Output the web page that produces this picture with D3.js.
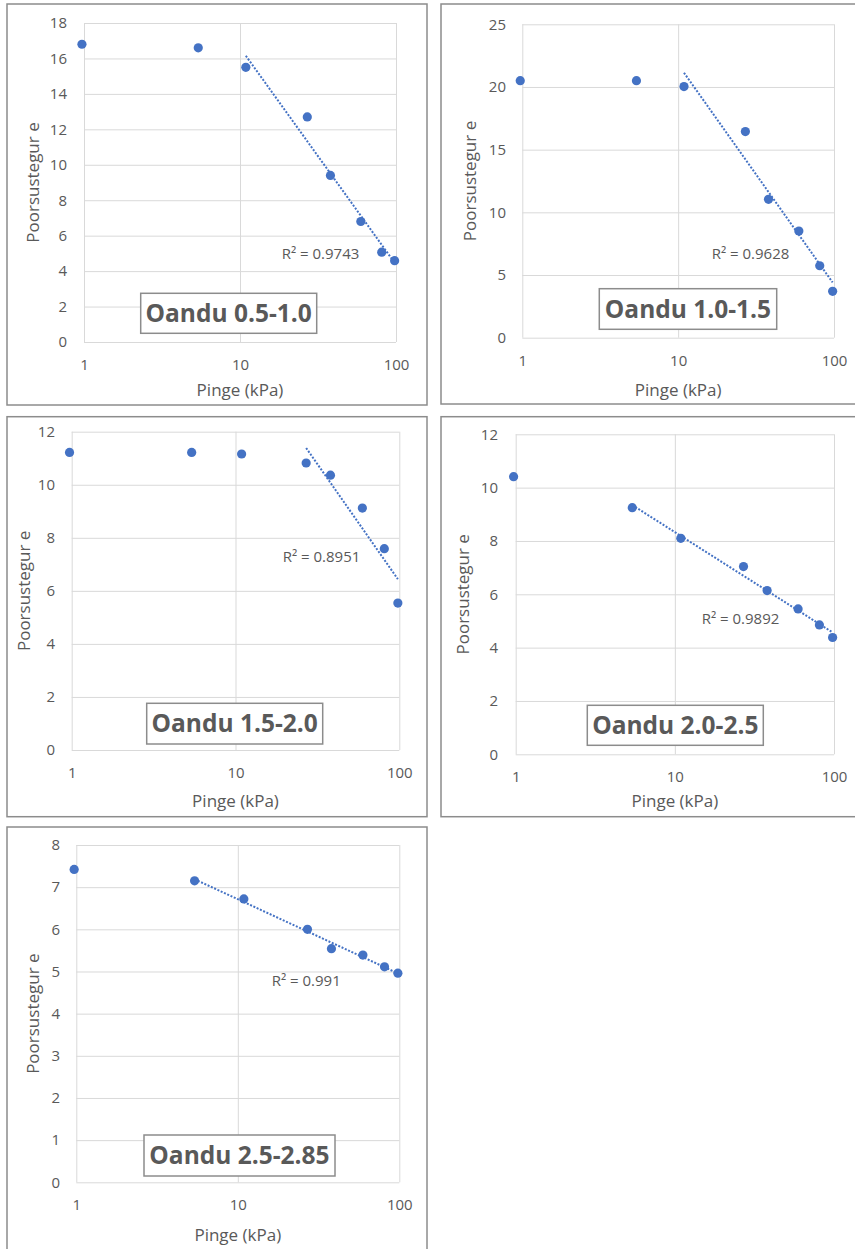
<!DOCTYPE html>
<html>
<head>
<meta charset="utf-8">
<script src="https://cdn.jsdelivr.net/npm/d3@7"></script>
<style>
  body { margin: 0; background: #fff; }
  text { font-family: 'Open Sans', sans-serif; fill: #595959; }
</style>
</head>
<body>
<svg id="canvas"></svg>
<script>
// pressure steps (kPa), same for every sample
let pinge = [0.97, 5.4, 10.9, 27, 38, 59.5, 81, 98]

// void ratio e for each depth interval
let oandu1 = [16.8, 16.6, 15.5, 12.7, 9.4, 6.8, 5.07, 4.59]
let oandu2 = [20.5, 20.5, 20.03, 16.44, 11.04, 8.51, 5.74, 3.70]
let oandu3 = [11.22, 11.22, 11.16, 10.82, 10.36, 9.12, 7.59, 5.54]
let oandu4 = [10.41, 9.25, 8.1, 7.04, 6.14, 5.45, 4.85, 4.38]
let oandu5 = [7.42, 7.15, 6.72, 6.0, 5.54, 5.39, 5.11, 4.96]

let names = ['Oandu 0.5-1.0', 'Oandu 1.0-1.5', 'Oandu 1.5-2.0', 'Oandu 2.0-2.5', 'Oandu 2.5-2.85']
let r2Labels = ['R² = 0.9743', 'R² = 0.9628', 'R² = 0.8951', 'R² = 0.9892', 'R² = 0.991']
// first point index used for the trendline
let trendStart = [2, 2, 3, 1, 1]
let yMax = [18, 25, 12, 12, 8]
let yStep = [2, 5, 2, 2, 1]
let xTicks = [1, 10, 100]

let series = [oandu1, oandu2, oandu3, oandu4, oandu5]

let width = 855
let height = 1249
let blue = '#4472C4'

// layout of each panel (box, plot area, label spots)
let layout = [
    {box: [7, 4, 420, 401], l: 84, r: 396, t: 23, b: 342, tickR: 67, yLab: 33, tickY: 365, titleY: 390,
     nameBox: [140.7, 293.3, 176, 40], r2: [281.7, 254]},
    {box: [441, 4, 430, 400], l: 522.3, r: 834, t: 24.3, b: 337.7, tickR: 506, yLab: 470, tickY: 361, titleY: 390,
     nameBox: [599.3, 288.7, 177.4, 40.6], r2: [711.7, 254]},
    {box: [7, 416.7, 420, 400], l: 71.7, r: 399.3, t: 431.7, b: 750, tickR: 55, yLab: 24, tickY: 772.7, titleY: 800.7,
     nameBox: [146.7, 703.3, 176, 40.7], r2: [282.7, 556.7]},
    {box: [441, 416.7, 430, 400], l: 515.7, r: 834, t: 434.3, b: 754.3, tickR: 498, yLab: 463, tickY: 776.7, titleY: 800.7,
     nameBox: [587.3, 705.3, 176, 40], r2: [701.7, 618.3]},
    {box: [7, 827, 420, 440], l: 76.3, r: 399.3, t: 845, b: 1182.3, tickR: 60, yLab: 33, tickY: 1205, titleY: 1235,
     nameBox: [144, 1135, 191, 41], r2: [271.7, 980.7]}
]

let svg = d3.select('#canvas')
    .attr('width', width)
    .attr('height', height)

// logarithmic trendline y = a*ln(x) + b, same as excel
let logFit = (xs, ys) => {
    let lx = xs.map(v => Math.log(v))
    let mx = d3.mean(lx)
    let my = d3.mean(ys)
    let sxy = d3.sum(lx, (v, i) => (v - mx) * (ys[i] - my))
    let sxx = d3.sum(lx, v => (v - mx) * (v - mx))
    let a = sxy / sxx
    return x => a * Math.log(x) + (my - a * mx)
}

let drawPanel = (idx) => {
    let L = layout[idx]
    let values = series[idx]
    let g = svg.append('g')

    g.append('rect')
        .attr('x', L.box[0])
        .attr('y', L.box[1])
        .attr('width', L.box[2])
        .attr('height', L.box[3])
        .attr('fill', 'none')
        .attr('stroke', '#8c8c8c')
        .attr('stroke-width', 1.5)

    let xScale = d3.scaleLog()
        .domain([1, 100])
        .range([L.l, L.r])

    let yScale = d3.scaleLinear()
        .domain([0, yMax[idx]])
        .range([L.b, L.t])

    let yTicks = d3.range(0, yMax[idx] + 0.001, yStep[idx])

    // gridlines
    g.append('g')
        .attr('transform', 'translate(' + L.l + ',0)')
        .call(d3.axisLeft(yScale).tickValues(yTicks).tickSize(-(L.r - L.l)).tickFormat(''))
        .call(a => a.select('.domain').remove())
        .call(a => a.selectAll('line').attr('stroke', '#d9d9d9'))

    g.append('g')
        .attr('transform', 'translate(0,' + L.b + ')')
        .call(d3.axisBottom(xScale).tickValues(xTicks).tickSize(-(L.b - L.t)).tickFormat(''))
        .call(a => a.select('.domain').remove())
        .call(a => a.selectAll('line').attr('stroke', '#d9d9d9'))

    // tick labels
    g.append('g')
        .attr('transform', 'translate(' + L.l + ',0)')
        .call(d3.axisLeft(yScale).tickValues(yTicks).tickSize(0).tickPadding(L.l - L.tickR))
        .call(a => a.select('.domain').remove())
        .call(a => a.selectAll('text').style('font-size', '15px').attr('fill', '#595959')
            .style('font-family', "'Open Sans', sans-serif"))

    g.append('g')
        .attr('transform', 'translate(0,' + L.b + ')')
        .call(d3.axisBottom(xScale).tickValues(xTicks).tickFormat(d3.format('d')).tickSize(0)
            .tickPadding(L.tickY - L.b - 5.3))
        .call(a => a.select('.domain').remove())
        .call(a => a.selectAll('text').style('font-size', '15px').attr('fill', '#595959')
            .style('font-family', "'Open Sans', sans-serif"))

    // axis titles
    g.append('text')
        .attr('x', (L.l + L.r) / 2)
        .attr('y', L.titleY)
        .attr('dy', '0.35em')
        .attr('text-anchor', 'middle')
        .style('font-size', '17px')
        .text('Pinge (kPa)')

    g.append('text')
        .attr('transform', 'translate(' + L.yLab + ',' + (L.t + L.b) / 2 + ') rotate(-90)')
        .attr('dy', '0.35em')
        .attr('text-anchor', 'middle')
        .style('font-size', '17px')
        .text('Poorsustegur e')

    // points
    g.selectAll('circle')
        .data(values)
        .enter()
        .append('circle')
        .attr('cx', (d, i) => xScale(pinge[i]))
        .attr('cy', d => yScale(d))
        .attr('r', 4.6)
        .attr('fill', blue)

    // trendline over the later points
    let tx = pinge.slice(trendStart[idx])
    let ty = values.slice(trendStart[idx])
    let fit = logFit(tx, ty)
    let ends = [d3.min(tx), d3.max(tx)]

    g.append('path')
        .datum(ends)
        .attr('d', d3.line().x(d => xScale(d)).y(d => yScale(fit(d))))
        .attr('fill', 'none')
        .attr('stroke', blue)
        .attr('stroke-width', 2)
        .attr('stroke-dasharray', '2 1.6')

    g.append('text')
        .attr('x', L.r2[0])
        .attr('y', L.r2[1])
        .attr('dy', '0.35em')
        .style('font-size', '15px')
        .text(r2Labels[idx])

    // sample name box
    let nb = L.nameBox
    g.append('rect')
        .attr('x', nb[0])
        .attr('y', nb[1])
        .attr('width', nb[2])
        .attr('height', nb[3])
        .attr('fill', '#fff')
        .attr('stroke', '#8c8c8c')
        .attr('stroke-width', 1.5)

    g.append('text')
        .attr('x', nb[0] + nb[2] / 2)
        .attr('y', nb[1] + nb[3] / 2)
        .attr('dy', '0.36em')
        .attr('text-anchor', 'middle')
        .style('font-size', '24.5px')
        .style('font-weight', 'bold')
        .text(names[idx])
}

series.forEach((s, i) => drawPanel(i))
</script>
</body>
</html>
